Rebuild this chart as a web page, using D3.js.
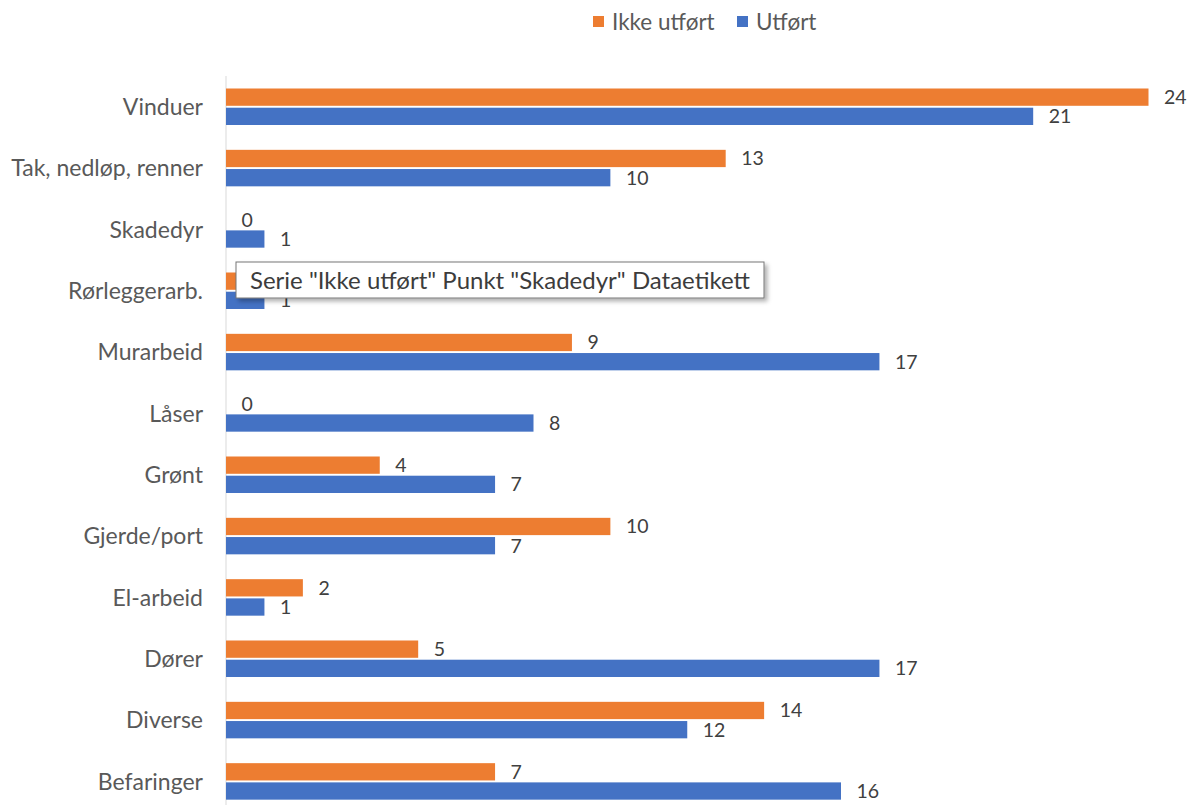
<!DOCTYPE html>
<html><head><meta charset="utf-8">
<script src="https://cdn.jsdelivr.net/npm/d3@7"></script>
<style>
html,body{margin:0;padding:0;background:#fff;}
svg{display:block;font-family:Lato,"Open Sans",sans-serif;}
</style></head>
<body>
<svg id="chart" width="1192" height="805"></svg>
<script>
const categories = ["Vinduer","Tak, nedløp, renner","Skadedyr","Rørleggerarb.","Murarbeid","Låser","Grønt","Gjerde/port","El-arbeid","Dører","Diverse","Befaringer"];
const ikkeUtfort = [24,13,0,1,9,0,4,10,2,5,14,7];
const utfort = [21,10,1,1,17,8,7,7,1,17,12,16];
const seriesNames = ["Ikke utført","Utført"];
const colors = ["#ED7D31","#4472C4"];
const tooltipText = 'Serie "Ikke utført" Punkt "Skadedyr" Dataetikett';

const svg = d3.select("#chart");
const x = d3.scaleLinear().domain([0,24]).range([226,1148.5]);
const y = d3.scaleBand().domain(categories).range([76,812]).paddingInner(0).paddingOuter(0);
const sub = d3.scaleBand().domain(seriesNames).range([12.5,49]).paddingInner(0.1);

svg.append("line").attr("x1",226).attr("x2",226).attr("y1",76).attr("y2",805)
  .attr("stroke","#d9d9d9").attr("stroke-width",1);

const data = categories.map((c,i)=>({c, vals:[ikkeUtfort[i],utfort[i]]}));
const g = svg.append("g");
data.forEach(d=>{
  d.vals.forEach((v,j)=>{
    const yy = y(d.c)+sub(seriesNames[j]);
    g.append("rect").attr("x",x(0)).attr("y",yy).attr("width",x(v)-x(0)).attr("height",sub.bandwidth())
      .attr("fill",colors[j]);
    g.append("text").attr("x",x(v)+15.5).attr("y",yy+sub.bandwidth()/2).attr("dy","0.36em")
      .attr("font-size",19.5).attr("fill","#404040").text(v);
  });
});

svg.append("g").selectAll("text").data(categories).join("text")
  .attr("x",203).attr("y",d=>y(d)+y.bandwidth()/2).attr("dy","0.36em")
  .attr("text-anchor","end").attr("font-size",23).attr("fill","#595959").text(d=>d);

const leg = svg.append("g");
const legX = [593,737];
seriesNames.forEach((s,j)=>{
  leg.append("rect").attr("x",legX[j]).attr("y",16).attr("width",11).attr("height",11).attr("fill",colors[j]);
  leg.append("text").attr("x",legX[j]+19).attr("y",22).attr("dy","0.36em").attr("font-size",22.5)
    .attr("fill","#595959").text(s);
});

const defs = svg.append("defs");
const f = defs.append("filter").attr("id","sh").attr("x","-10%").attr("y","-30%").attr("width","120%").attr("height","160%");
f.append("feDropShadow").attr("dx",3).attr("dy",3).attr("stdDeviation",2).attr("flood-color","#000").attr("flood-opacity",0.3);
const tt = svg.append("g");
tt.append("rect").attr("x",236).attr("y",262).attr("width",528).attr("height",36)
  .attr("fill","#fff").attr("stroke","#767676").attr("stroke-width",1).attr("filter","url(#sh)");
tt.append("text").attr("x",250).attr("y",280).attr("dy","0.36em").attr("font-size",24)
  .attr("fill","#3c3c3c").text(tooltipText);
</script>
</body></html>
